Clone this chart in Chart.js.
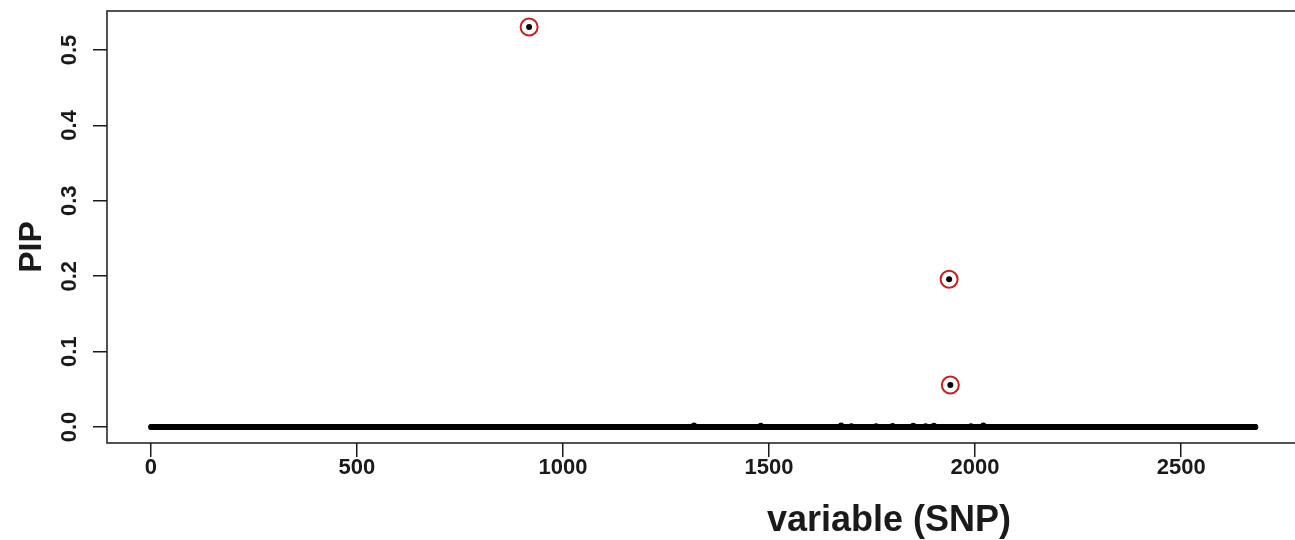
<!DOCTYPE html>
<html>
<head>
<meta charset="utf-8">
<script src="https://cdn.jsdelivr.net/npm/chart.js@4.4.1/dist/chart.umd.min.js"></script>
<style>
  html,body{margin:0;padding:0;background:#fff;overflow:hidden;}
  #wrap{position:relative;width:1310px;height:540px;}
</style>
</head>
<body>
<div id="wrap"><canvas id="cPip"></canvas></div>
<script>
// PIP per SNP, R base-graphics look. Most SNPs sit at ~0; only a few stand out.
const N_SNP = 2680;
// small bumps just above zero (index, PIP)
const SMALL_PIP = [[1318,0.002],[1480,0.0015],[1675,0.002],[1700,0.001],[1760,0.001],
                   [1800,0.0012],[1850,0.0015],[1880,0.001],[1900,0.0015],[1990,0.001],[2020,0.002]];
// the credible-set SNPs, ringed in red
const TOP_IDX = [918, 1937, 1940];
const TOP_PIP = [0.5305, 0.1959, 0.0557];
const X_TICKS = [0, 500, 1000, 1500, 2000, 2500];
const Y_TICKS = [0.0, 0.1, 0.2, 0.3, 0.4, 0.5];
const X_TITLE = 'variable (SNP)', Y_TITLE = 'PIP';

const INK = '#1a1a1a', RING = '#c81e1e';
const FONT = "'Liberation Sans', Arial, sans-serif";

(function(){
  const el = document.getElementById('cPip');
  const pip = new Array(N_SNP).fill(0);
  SMALL_PIP.forEach(([i,v]) => { pip[i-1] = v; });
  TOP_IDX.forEach((i,k) => { pip[i-1] = TOP_PIP[k]; });
  const all = pip.map((v,i) => ({x:i+1, y:v}));
  const top = TOP_IDX.map((i,k) => ({x:i, y:TOP_PIP[k]}));

  // R pads the data range by 4% each side
  const xPad = 0.04*(N_SNP-1), yMax = Math.max(...pip), yPad = 0.04*yMax;

  const boxPlugin = {
    id:'box',
    afterDraw(c){
      const {ctx, chartArea:a} = c;
      ctx.save();
      ctx.strokeStyle = INK; ctx.lineWidth = 1.5;
      ctx.strokeRect(a.left, a.top, a.right-a.left, a.bottom-a.top);
      ctx.fillStyle = INK;
      ctx.textAlign = 'center'; ctx.textBaseline = 'middle';
      // y tick labels, rotated like R (las=0)
      const ys = c.scales.y;
      ctx.font = "bold 22px " + FONT;
      Y_TICKS.forEach(v => {
        ctx.save();
        ctx.translate(70, ys.getPixelForValue(v));
        ctx.rotate(-Math.PI/2);
        ctx.fillText(v.toFixed(1), 0, 0);
        ctx.restore();
      });
      // axis titles (the figure was cropped on the right, so they sit off-centre)
      ctx.font = "bold 36px " + FONT;
      ctx.fillText(X_TITLE, 889, 521);
      ctx.save();
      ctx.translate(32, 247);
      ctx.rotate(-Math.PI/2);
      ctx.font = "bold 32px " + FONT;
      ctx.fillText(Y_TITLE, 0, 0);
      ctx.restore();
      ctx.restore();
    }
  };

  new Chart(el, {
    type:'scatter',
    data:{datasets:[
      {data:all, backgroundColor:'#000', borderWidth:0, pointRadius:3, pointHoverRadius:3},
      {data:top, backgroundColor:'rgba(0,0,0,0)', borderColor:RING, borderWidth:2, pointRadius:8.5, pointHoverRadius:8.5}
    ]},
    options:{
      animation:false, responsive:true, maintainAspectRatio:false,
      layout:{padding:{top:11, right:8, left:0, bottom:0}},
      plugins:{legend:{display:false}, tooltip:{enabled:false}},
      scales:{
        x:{type:'linear', min:1-xPad, max:N_SNP+xPad,
          afterBuildTicks:s => { s.ticks = X_TICKS.map(v => ({value:v})); },
          afterFit:s => { s.height = 97; },
          ticks:{color:INK, font:{family:FONT, size:22, weight:'bold'}, padding:-2, maxRotation:0,
                 callback:v => String(v)},
          grid:{drawOnChartArea:false, drawTicks:true, tickLength:14, color:INK, lineWidth:1.5},
          border:{display:false}
        },
        y:{type:'linear', min:-yPad, max:yMax+yPad,
          afterBuildTicks:s => { s.ticks = Y_TICKS.map(v => ({value:v})); },
          afterFit:s => { s.width = 107; },
          ticks:{display:false},
          grid:{drawOnChartArea:false, drawTicks:true, tickLength:14, color:INK, lineWidth:1.5},
          border:{display:false}
        }
      }
    },
    plugins:[boxPlugin]
  });
})();
</script>
</body>
</html>
